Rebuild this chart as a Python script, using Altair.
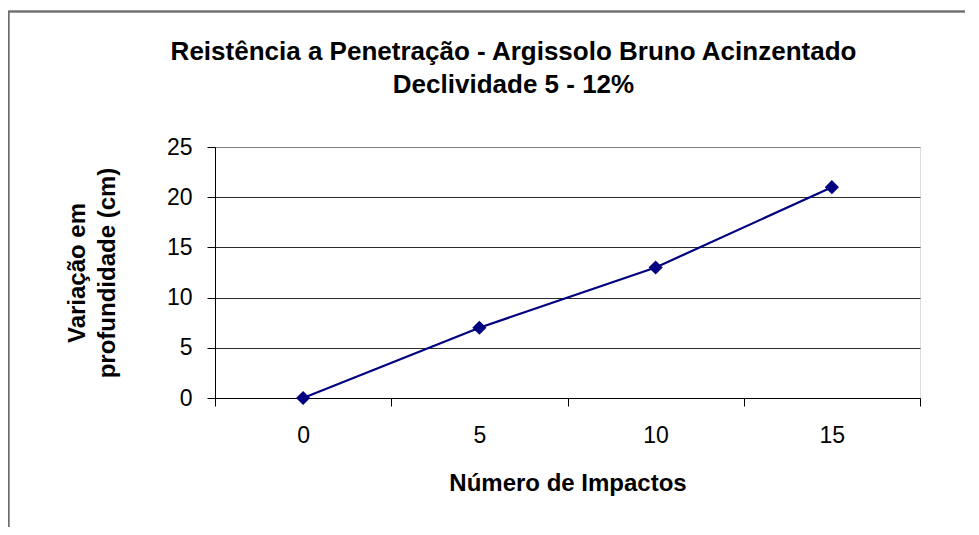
import altair as alt
import pandas as pd

impactos = ["0", "5", "10", "15"]
profundidade = [0, 7, 13, 21]

df = pd.DataFrame({"impactos": impactos, "prof": profundidade})

FONT = "Liberation Sans"
W, H = 705, 251

x_enc = alt.X(
    "impactos:O",
    sort=impactos,
    bandPosition=0.5,
    scale=alt.Scale(type="band", paddingInner=0, paddingOuter=0),
    axis=alt.Axis(
        title="Número de Impactos",
        labelAngle=0,
        tickBand="extent",
        tickSize=8,
        tickColor="#000000",
        domainColor="#000000",
        labelFont=FONT,
        labelFontSize=23,
        labelColor="#000000",
        labelPadding=18,
        titleFont=FONT,
        titleFontSize=24,
        titleFontWeight="bold",
        titleColor="#000000",
        titlePadding=24,
        grid=False,
    ),
)

y_enc = alt.Y(
    "prof:Q",
    scale=alt.Scale(domain=[0, 25], nice=False),
    axis=alt.Axis(
        title=["Variação em", "profundidade (cm)"],
        values=[0, 5, 10, 15, 20, 25],
        tickSize=8,
        tickColor="#000000",
        domainColor="#000000",
        labelFont=FONT,
        labelFontSize=23,
        labelColor="#000000",
        labelPadding=15,
        titleFont=FONT,
        titleFontSize=24,
        titleFontWeight="bold",
        titleColor="#000000",
        titleLineHeight=30,
        titleAngle=270,
        titleAlign="center",
        titleBaseline="middle",
        titleX=-138,
        titleY=H / 2,
        grid=True,
        gridColor={"condition": {"test": "datum.value === 25", "value": "#808080"}, "value": "#2a2a2a"},
        gridWidth=1,
    ),
)

frame = alt.Chart(df).mark_rect(
    fill="transparent", stroke="#6e6e6e", strokeWidth=1.5, clip=False
).encode(
    x=alt.value(-206.5), x2=alt.value(W + 300),
    y=alt.value(-135.5), y2=alt.value(H + 300),
)

line = alt.Chart(df).mark_line(color="#000080", strokeWidth=2.2).encode(x=x_enc, y=y_enc)
pts = alt.Chart(df).mark_point(
    shape="diamond", filled=True, color="#000080", size=200, opacity=1
).encode(x=x_enc, y=y_enc)

chart = alt.layer(frame, line, pts).properties(
    width=W,
    height=H,
    autosize=alt.AutoSizeParams(type="none"),
    padding={"left": 207, "top": 139, "right": 45, "bottom": 129},
    title=alt.TitleParams(
        text=["Reistência a Penetração - Argissolo Bruno Acinzentado", "Declividade 5 - 12%"],
        font=FONT,
        fontSize=26,
        fontWeight="bold",
        color="#000000",
        anchor="middle",
        frame="group",
        baseline="alphabetic",
        lineHeight=33,
        dx=-54,
        offset=-108.5,
    ),
).configure_view(stroke="#808080", strokeWidth=1.5).configure(background="white")

chart.save("out.html", embed_options={"renderer": "svg", "actions": False})
